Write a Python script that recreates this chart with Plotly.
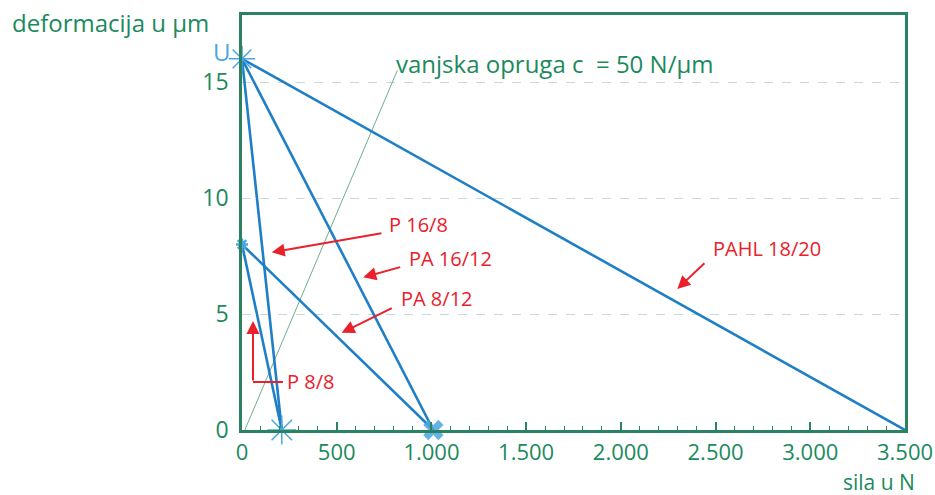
import plotly.graph_objects as go

# ---- data ----
line_names = ["PAHL 18/20", "PA 16/12", "P 16/8", "PA 8/12", "P 8/8"]
line_force = [[0, 3500], [0, 1010], [0, 210], [0, 1010], [0, 210]]
line_def = [[16, 0], [16, 0], [16, 0], [8, 0], [8, 0]]

spring_force = [15, 820]
spring_def = [0, 15.5]

x_tickvals = [0, 500, 1000, 1500, 2000, 2500, 3000, 3500]
x_ticktext = ["0", "500", "1.000", "1.500", "2.000", "2.500", "3.000", "3.500"]
y_tickvals = [0, 5, 10, 15]
y_ticktext = ["0", "5", "10", "15"]

GREEN = "#1c8a5c"
AXIS = "#2a8260"
BLUE = "#1f7fc6"
LBLUE = "#4aa6e0"
RED = "#e8212b"
FONT = "Open Sans"

fig = go.Figure()

# spring line
fig.add_trace(go.Scatter(x=spring_force, y=spring_def, mode="lines",
                         line=dict(color="#6fae8e", width=1), showlegend=False,
                         hoverinfo="skip"))

for name, xs, ys in zip(line_names, line_force, line_def):
    fig.add_trace(go.Scatter(x=xs, y=ys, mode="lines", name=name,
                             line=dict(color=BLUE, width=2.6), showlegend=False))

# markers at endpoints
fig.add_trace(go.Scatter(x=[0], y=[16], mode="markers", cliponaxis=False,
                         marker=dict(symbol="asterisk-open", size=22, color=LBLUE,
                                     line=dict(color=LBLUE, width=1.5)),
                         showlegend=False))
fig.add_trace(go.Scatter(x=[0], y=[8], mode="markers", cliponaxis=False,
                         marker=dict(symbol="asterisk-open", size=10, color=LBLUE,
                                     line=dict(color=LBLUE, width=2.5)),
                         showlegend=False))
fig.add_trace(go.Scatter(x=[210], y=[0], mode="markers", cliponaxis=False,
                         marker=dict(symbol="asterisk-open", size=24, color=LBLUE,
                                     line=dict(color=LBLUE, width=1.5)),
                         showlegend=False))
fig.add_trace(go.Scatter(x=[1010], y=[0], mode="markers", cliponaxis=False,
                         marker=dict(symbol="x", size=18, color=LBLUE, opacity=0.85,
                                     line=dict(width=0)),
                         showlegend=False))

annotations = []
lbl_font = dict(family=FONT, size=20, color=RED)

# (text, text_x, text_y, tail_x, tail_y, tip_x, tip_y)
arrows = [
    ("P 16/8", 765, 8.84, 744, 8.49, 157, 7.66),
    ("PA 16/12", 869, 7.41, 843, 7.04, 640, 6.58),
    ("PA 8/12", 829, 5.69, 799, 5.29, 526, 4.19),
    ("PAHL 18/20", 2476, 7.84, 2449, 7.25, 2298, 6.08),
]
for txt, tx, ty, ax_, ay_, hx, hy in arrows:
    annotations.append(dict(x=tx, y=ty, text=txt, showarrow=False, xanchor="left",
                            yanchor="middle", font=lbl_font))
    annotations.append(dict(x=hx, y=hy, ax=ax_, ay=ay_, axref="x", ayref="y",
                            text="", showarrow=True, arrowhead=2, arrowsize=1.3,
                            arrowwidth=2, arrowcolor=RED))

# P 8/8 with L-shaped arrow
annotations.append(dict(x=227, y=2.07, text="P 8/8", showarrow=False, xanchor="left",
                        yanchor="middle", font=lbl_font))
annotations.append(dict(x=58, y=4.7, ax=58, ay=2.07, axref="x", ayref="y",
                        text="", showarrow=True, arrowhead=2, arrowsize=1.3,
                        arrowwidth=2, arrowcolor=RED))

# spring label
annotations.append(dict(x=800, y=15.8, text="vanjska opruga c  = 50 N/µm", showarrow=False,
                        xanchor="left", yanchor="middle",
                        font=dict(family=FONT, size=24, color=GREEN)))
# U label
annotations.append(dict(x=0, y=16, text="U", showarrow=False, xanchor="right",
                        yanchor="middle", xshift=-9, yshift=7,
                        font=dict(family=FONT, size=24, color=LBLUE)))
# axis titles
annotations.append(dict(xref="paper", yref="paper", x=-0.35, y=0.983,
                        text="deformacija u µm", showarrow=False, xanchor="left",
                        yanchor="middle", font=dict(family=FONT, size=24, color=GREEN)))
annotations.append(dict(xref="paper", yref="paper", x=1.018, y=-0.125,
                        text="sila u N", showarrow=False, xanchor="right",
                        yanchor="middle", font=dict(family=FONT, size=21, color=GREEN)))

shapes = [dict(type="line", xref="x", yref="y", x0=216, y0=2.07, x1=58, y1=2.07,
               line=dict(color=RED, width=2))]

fig.update_layout(
    width=935, height=495,
    margin=dict(l=242, r=30, t=15, b=65, autoexpand=False),
    paper_bgcolor="white", plot_bgcolor="white",
    annotations=annotations, shapes=shapes,
    xaxis=dict(range=[0, 3500], tickvals=x_tickvals, ticktext=x_ticktext,
               showgrid=False, zeroline=False, showline=True, mirror=True,
               linecolor=AXIS, linewidth=2.5, ticks="inside", ticklen=8,
               tickcolor=AXIS, tickwidth=2,
               minor=dict(dtick=100, ticks="inside", ticklen=4, tickcolor=AXIS,
                          tickwidth=1, showgrid=False),
               tickfont=dict(family=FONT, size=22, color=GREEN),
               ticklabelstandoff=1),
    yaxis=dict(range=[0, 17.89], tickvals=y_tickvals, ticktext=y_ticktext,
               showgrid=True, gridcolor="#c9dada", griddash="dash", gridwidth=1,
               zeroline=False, showline=True, mirror=True,
               linecolor=AXIS, linewidth=2.5, ticks="",
               tickfont=dict(family=FONT, size=23, color=GREEN),
               ticklabelstandoff=6),
)

fig.write_html("out.html", config={"displayModeBar": False},
               post_script="document.body.style.margin='0';")
